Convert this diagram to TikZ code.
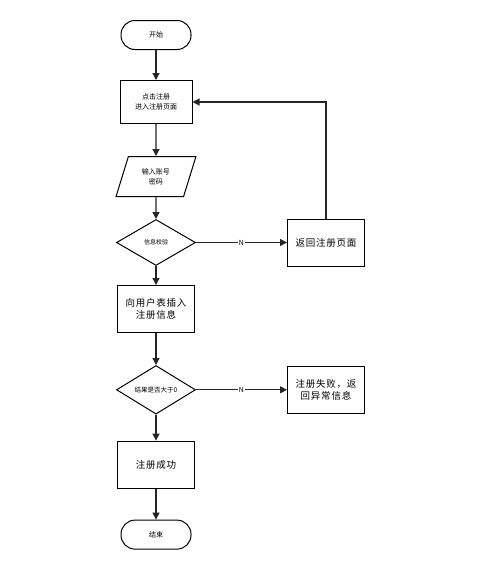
\documentclass[tikz,border=0pt]{standalone}
\usepackage{fontspec}
\setmainfont{Noto Sans CJK SC}
\newfontfamily\widecjk[LetterSpace=8]{Noto Sans CJK SC}
\usetikzlibrary{shapes.geometric, arrows.meta, positioning}

\begin{document}
\begin{tikzpicture}[
    x=1pt, y=-1pt,
    base/.style={draw=black, line width=1pt, align=center, inner sep=1pt},
    term/.style={base, rounded corners=14pt, minimum width=70pt, minimum height=29pt, font=\fontsize{7}{9}\selectfont},
    process/.style={base, minimum width=77pt, minimum height=47pt, font=\widecjk\fontsize{9.5}{12.5}\selectfont},
    smallproc/.style={base, minimum width=72pt, minimum height=43pt, font=\fontsize{7}{10}\selectfont},
    io/.style={base, trapezium, trapezium left angle=70, trapezium right angle=110, trapezium stretches=true, minimum width=80pt, minimum height=40pt, font=\fontsize{7}{10}\selectfont},
    decision/.style={base, diamond, minimum width=79pt, minimum height=46pt, inner sep=0pt},
    arrow/.style={-{Triangle[length=7pt, width=7pt]}, line width=1.2pt, draw=black!85},
    lbl/.style={fill=white, inner sep=0.5pt, font=\fontsize{7}{8}\selectfont}
]
    \useasboundingbox (0,0) rectangle (497,581);
    \fill[white] (0,0) rectangle (497,581);

    % Nodes
    \node (start) [term] at (156,35) {开始};
    \node (click) [smallproc, below=30pt of start] {点击注册\\进入注册页面};
    \node (input) [io, below=32pt of click] {输入账号\\密码};
    \node (check) [decision, below=22pt of input, font=\fontsize{6}{8}\selectfont] {信息校验};
    \node (back) [process, right=91pt of check] {返回注册页面};
    \node (insert) [process, below=19pt of check] {向用户表插入\\注册信息};
    \node (result) [decision, below=32pt of insert, font=\fontsize{6.5}{8}\selectfont] {结果是否大于0};
    \node (fail) [process, right=91pt of result] {注册失败，返\\回异常信息};
    \node (ok) [process, below=26pt of result] {注册成功};
    \node (end) [term, below=31pt of ok] {结束};

    % Paths
    \draw [arrow] (start) -- (click);
    \draw [arrow] (click) -- (input);
    \draw [arrow] (input) -- (check);
    \draw [arrow] (check) -- (insert);
    \draw [arrow] (check) -- node[lbl] {N} (back);
    \draw [arrow] (back.north) |- (click.east);
    \draw [arrow] (insert) -- (result);
    \draw [arrow] (result) -- node[lbl] {N} (fail);
    \draw [arrow] (result) -- (ok);
    \draw [arrow] (ok) -- (end);
\end{tikzpicture}
\end{document}
